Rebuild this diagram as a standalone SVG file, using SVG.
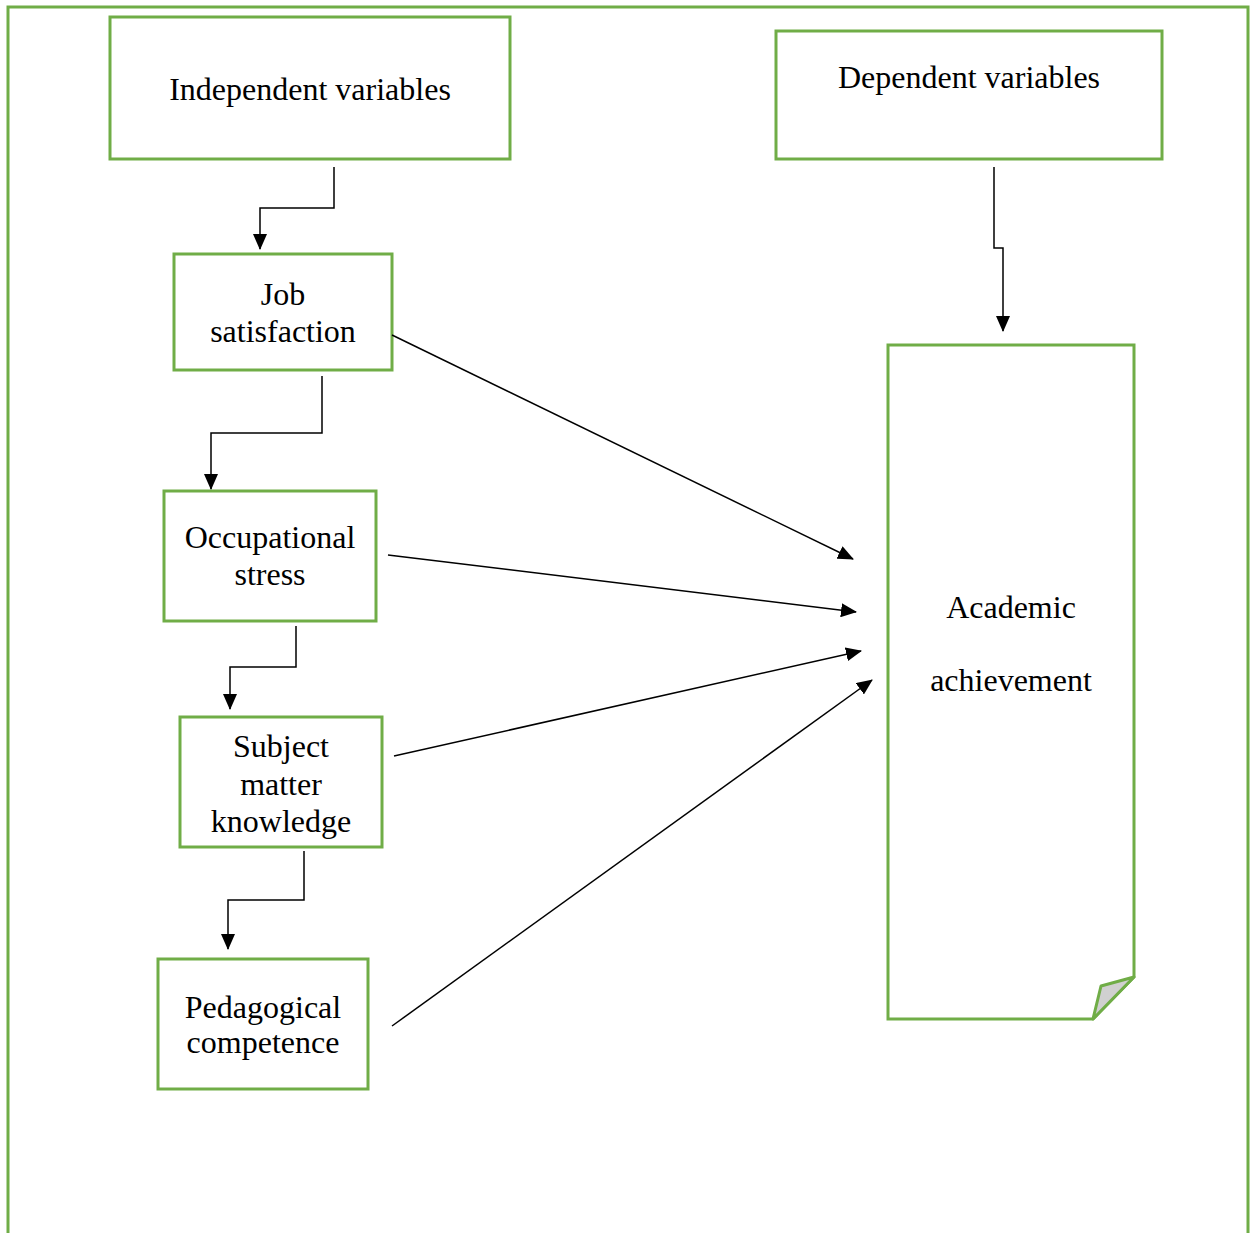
<svg xmlns="http://www.w3.org/2000/svg" width="1250" height="1233" viewBox="0 0 1250 1233">
<style>
.box{fill:#fff;stroke:#70AD47;stroke-width:3}
.t{font-family:"Liberation Serif","Times New Roman",serif;font-size:32px;fill:#000;text-anchor:middle}
.c{fill:none;stroke:#000;stroke-width:1.5}
</style>
<defs>
<marker id="ah" viewBox="0 0 16 14" refX="15" refY="7" markerWidth="16" markerHeight="14" markerUnits="userSpaceOnUse" orient="auto">
<path d="M0,0 L16,7 L0,14 Z" fill="#000"/>
</marker>
</defs>
<rect width="1250" height="1233" fill="#fff"/>
<path d="M8,1233 V7 H1248 V1233" fill="none" stroke="#70AD47" stroke-width="3"/>
<g id="independent"><rect class="box" x="110" y="17" width="400" height="142"/><text class="t" x="310" y="100">Independent variables</text></g>
<g id="dependent"><rect class="box" x="776" y="31" width="386" height="128"/><text class="t" x="969" y="88">Dependent variables</text></g>
<g id="job"><rect class="box" x="174" y="254" width="218" height="116"/><text class="t" x="283" y="305">Job</text><text class="t" x="283" y="342">satisfaction</text></g>
<g id="stress"><rect class="box" x="164" y="491" width="212" height="130"/><text class="t" x="270" y="548">Occupational</text><text class="t" x="270" y="585">stress</text></g>
<g id="subject"><rect class="box" x="180" y="717" width="202" height="130"/><text class="t" x="281" y="757">Subject</text><text class="t" x="281" y="795">matter</text><text class="t" x="281" y="832">knowledge</text></g>
<g id="pedagogical"><rect class="box" x="158" y="959" width="210" height="130"/><text class="t" x="263" y="1018">Pedagogical</text><text class="t" x="263" y="1053">competence</text></g>
<g id="academic"><path class="box" d="M888,345 H1134 V977 L1093,1019 H888 Z"/><path d="M1134,977 L1101,986 L1093,1019 Z" fill="#d0d0d0" stroke="#70AD47" stroke-width="3" stroke-linejoin="round"/><text class="t" x="1011" y="618">Academic</text><text class="t" x="1011" y="691">achievement</text></g>
<g id="connectors">
<path class="c" d="M334,167 V208 H260 V249" marker-end="url(#ah)"/>
<path class="c" d="M322,376 V433 H211 V489" marker-end="url(#ah)"/>
<path class="c" d="M296,626 V667 H230 V709" marker-end="url(#ah)"/>
<path class="c" d="M304,851 V900 H228 V949" marker-end="url(#ah)"/>
<path class="c" d="M994,167 V248 H1003 V331" marker-end="url(#ah)"/>
<path class="c" d="M392,335 L853,559" marker-end="url(#ah)"/>
<path class="c" d="M388,555 L856,612" marker-end="url(#ah)"/>
<path class="c" d="M394,756 L861,651" marker-end="url(#ah)"/>
<path class="c" d="M392,1026 L872,680" marker-end="url(#ah)"/>
</g>
</svg>
